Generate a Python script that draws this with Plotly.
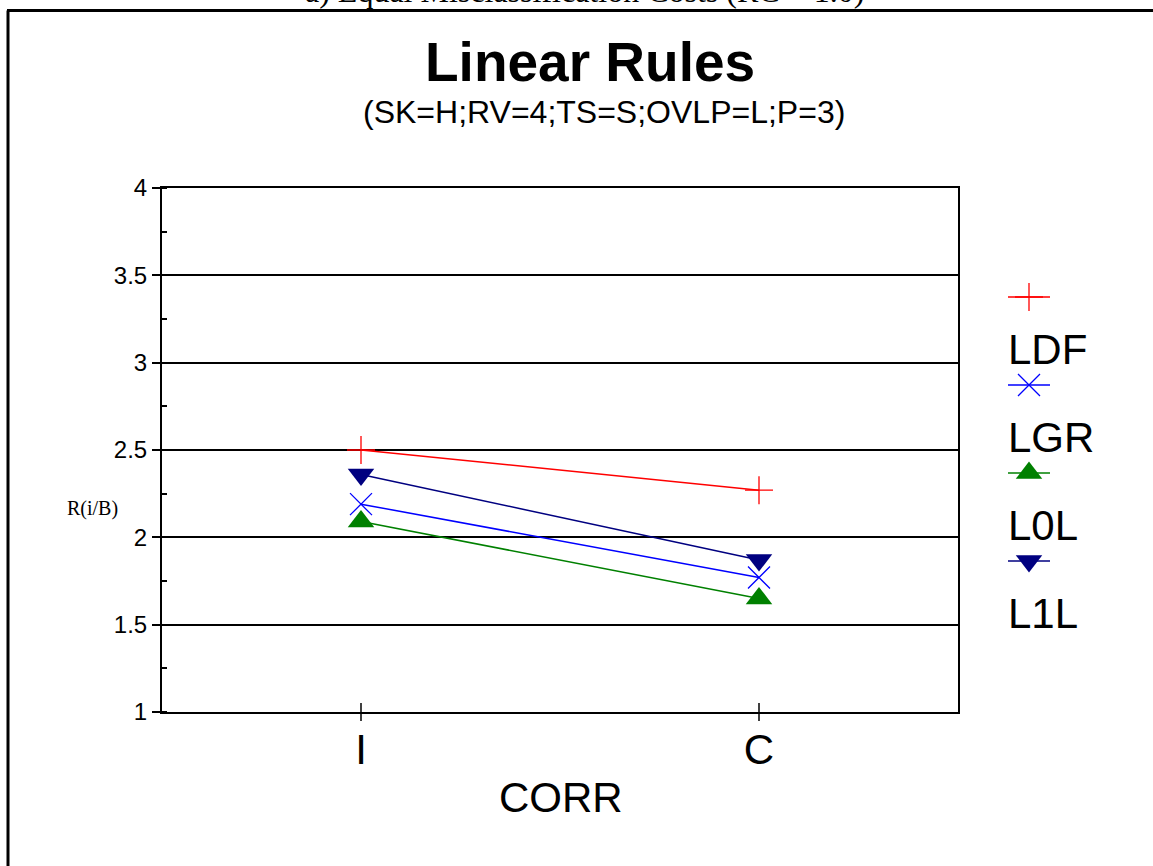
import plotly.graph_objects as go

# ---- data ----
categories = ["I", "C"]
series_names = ["LDF", "LGR", "L0L", "L1L"]
ldf = [2.50, 2.27]
lgr = [2.19, 1.77]
l0l = [2.09, 1.65]
l1l = [2.36, 1.87]
y_ticks = [1, 1.5, 2, 2.5, 3, 3.5, 4]

series_values = [ldf, lgr, l0l, l1l]
colors = ["#FF0000", "#0000FF", "#008000", "#000080"]
symbols = ["cross-thin", "x-thin", "triangle-up", "triangle-down"]
msizes = [20, 22, 23, 23]

W, H = 1153, 866
ML, MR, MT, MB = 162, 13, 188, 154
PW = W - ML - MR
PH = H - MT - MB


def xp(px):
    return (px - ML) / PW


def yp(py):
    return (H - MB - py) / PH


SANS = "Liberation Sans, Arial, sans-serif"
SERIF = "Liberation Serif, Times New Roman, serif"

fig = go.Figure()

for name, vals, c, s, ms in zip(series_names, series_values, colors, symbols, msizes):
    thin = s.endswith("thin")
    fig.add_trace(go.Scatter(
        x=categories, y=vals, name=name, mode="lines+markers",
        line=dict(color=c, width=1.5),
        marker=dict(symbol=s, size=ms, color=c,
                    line=dict(color=c, width=1.3 if thin else 0)),
        showlegend=False, xaxis="x", yaxis="y",
    ))

# custom legend (symbol above label) drawn in a helper axis
leg_y0, leg_step, lab_off = 109, 88, 52
for i, (name, c, s, ms) in enumerate(zip(series_names, colors, symbols, msizes)):
    thin = s.endswith("thin")
    yy = leg_y0 + i * leg_step
    fig.add_trace(go.Scatter(
        x=[8, 50], y=[yy, yy], mode="lines", line=dict(color=c, width=1.5),
        showlegend=False, hoverinfo="skip", xaxis="x2", yaxis="y2"))
    fig.add_trace(go.Scatter(
        x=[29], y=[yy], mode="markers",
        marker=dict(symbol=s, size=ms, color=c,
                    line=dict(color=c, width=1.3 if thin else 0)),
        showlegend=False, hoverinfo="skip", xaxis="x2", yaxis="y2"))
    fig.add_annotation(x=6, y=yy + lab_off, xref="x2", yref="y2", text=name,
                       showarrow=False, xanchor="left", yanchor="middle",
                       font=dict(family=SANS, size=42, color="black"))

# category tick marks crossing the x axis
for cat in categories:
    fig.add_shape(type="line", xref="x", yref="paper", x0=cat, x1=cat,
                  y0=-9 / PH, y1=9 / PH, line=dict(color="black", width=1.5))

# outer frame (top & left)
fig.add_shape(type="line", xref="paper", yref="paper", x0=xp(7), x1=xp(W + 5),
              y0=yp(10.5), y1=yp(10.5), line=dict(color="black", width=3))
fig.add_shape(type="line", xref="paper", yref="paper", x0=xp(8), x1=xp(8),
              y0=yp(10.5), y1=yp(H + 5), line=dict(color="black", width=3))

# texts
fig.add_annotation(x=xp(584), y=yp(11), xref="paper", yref="paper",
                   text="a) Equal Misclassification Costs (RC = 1.0)", showarrow=False,
                   xanchor="center", yanchor="bottom",
                   font=dict(family=SERIF, size=32, color="black"))
fig.add_annotation(x=xp(590), y=yp(62), xref="paper", yref="paper",
                   text="<b>Linear Rules</b>", showarrow=False,
                   xanchor="center", yanchor="middle",
                   font=dict(family=SANS, size=55, color="black"))
fig.add_annotation(x=xp(604), y=yp(112), xref="paper", yref="paper",
                   text="(SK=H;RV=4;TS=S;OVLP=L;P=3)", showarrow=False,
                   xanchor="center", yanchor="middle",
                   font=dict(family=SANS, size=32, color="black"))
fig.add_annotation(x=xp(92), y=yp(508), xref="paper", yref="paper",
                   text="R(i/B)", showarrow=False,
                   xanchor="center", yanchor="middle",
                   font=dict(family=SERIF, size=20, color="black"))
fig.add_annotation(x=xp(561), y=yp(797), xref="paper", yref="paper",
                   text="CORR", showarrow=False,
                   xanchor="center", yanchor="middle",
                   font=dict(family=SANS, size=42, color="black"))

fig.update_layout(
    width=W, height=H,
    margin=dict(l=ML, r=MR, t=MT, b=MB),
    paper_bgcolor="white", plot_bgcolor="white",
    showlegend=False,
    xaxis=dict(
        type="category", domain=[0, 796 / PW], range=[-0.5, 1.5],
        categoryorder="array", categoryarray=categories,
        showline=True, linecolor="black", linewidth=2, mirror=True,
        showgrid=False, zeroline=False,
        ticks="",
        tickfont=dict(family=SANS, size=42, color="black"),
    ),
    yaxis=dict(
        range=[1, 4], tickvals=y_ticks, ticktext=[f"{v:g}" for v in y_ticks],
        showline=True, linecolor="black", linewidth=2, mirror=True,
        showgrid=True, gridcolor="black", gridwidth=1.5, zeroline=False,
        ticks="outside", ticklen=8, tickwidth=1.5, tickcolor="black",
        minor=dict(ticks="inside", ticklen=5, dtick=0.25, tickwidth=1.5,
                   tickcolor="black", showgrid=False),
        tickfont=dict(family=SANS, size=24, color="black"),
    ),
    xaxis2=dict(domain=[xp(1000), xp(1100)], range=[0, 100], visible=False,
                anchor="y2", fixedrange=True),
    yaxis2=dict(domain=[0, 1], range=[PH, 0], visible=False,
                anchor="x2", fixedrange=True),
)

fig.write_html(
    "out.html",
    config={"displayModeBar": False},
    post_script="document.body.style.margin='0px';document.body.style.overflow='hidden';",
)
